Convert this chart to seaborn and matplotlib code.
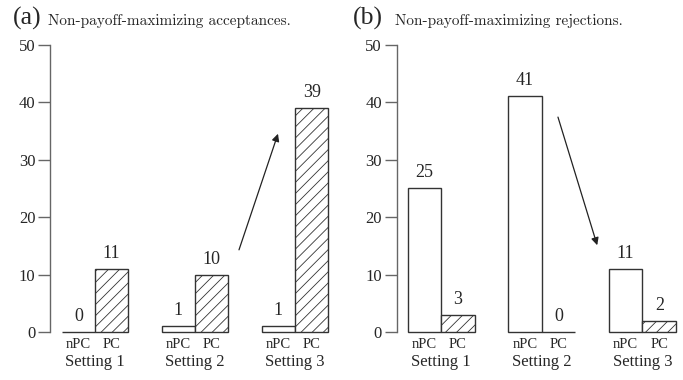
import matplotlib
matplotlib.use("Agg")
import matplotlib.pyplot as plt
import seaborn as sns
import pandas as pd

# Counts of non-payoff-maximizing choices per setting, split by group
settings = ["Setting 1", "Setting 2", "Setting 3"]
groups = ["nPC", "PC"]
acceptances_npc = [0, 1, 1]
acceptances_pc = [11, 10, 39]
rejections_npc = [25, 41, 11]
rejections_pc = [3, 0, 2]
y_ticks = [0, 10, 20, 30, 40, 50]


def long_frame(npc, pc):
    rows = []
    for s, a, b in zip(settings, npc, pc):
        rows.append({"setting": s, "group": "nPC", "count": a})
        rows.append({"setting": s, "group": "PC", "count": b})
    return pd.DataFrame(rows)


sns.set_style("ticks")
plt.rcParams["font.family"] = ["Liberation Serif", "DejaVu Serif"]
plt.rcParams["hatch.linewidth"] = 0.6
plt.rcParams["hatch.color"] = "#333333"

EDGE = "#333333"
SPINE = "#666666"

fig = plt.figure(figsize=(6.83, 3.80), dpi=100)
ax_a = fig.add_axes([50 / 683, 48 / 380, 283 / 683, 287.3 / 380])
ax_b = fig.add_axes([396.7 / 683, 48 / 380, 282 / 683, 287.3 / 380])


def draw_panel(ax, npc, pc, xlim):
    df = long_frame(npc, pc)
    sns.barplot(data=df, x="setting", y="count", hue="group",
                order=settings, hue_order=groups,
                palette={"nPC": "white", "PC": "white"},
                width=0.667, gap=0, saturation=1, errorbar=None,
                edgecolor=EDGE, linewidth=1.0, legend=False, ax=ax)
    for bar in ax.containers[1]:
        bar.set_hatch("///")
    for cont in ax.containers:
        for bar in cont:
            bar.set_clip_on(False)
        ax.bar_label(cont, fmt="%d", padding=5, fontsize=13)

    centers, labels = [], []
    for cont, g in zip(ax.containers, groups):
        for bar in cont:
            centers.append(bar.get_x() + bar.get_width() / 2)
            labels.append(g)

    ax.set_ylim(0, 50)
    ax.set_xlim(*xlim)
    ax.set_yticks(y_ticks)
    ax.set_xticks(range(len(settings)), labels=settings, fontsize=12)
    ax.set_xticks(centers, labels=labels, minor=True, fontsize=10.5)
    ax.tick_params(axis="x", which="major", length=0, pad=16)
    ax.tick_params(axis="x", which="minor", length=0, pad=4)
    ax.tick_params(axis="y", length=8.6, width=1, color=SPINE, labelsize=12, pad=2)
    ax.set_xlabel("")
    ax.set_ylabel("")
    sns.despine(ax=ax, bottom=True)
    ax.spines["left"].set_color(SPINE)
    ax.spines["left"].set_linewidth(1)


draw_panel(ax_a, acceptances_npc, acceptances_pc, (-0.45, 2.38))
draw_panel(ax_b, rejections_npc, rejections_pc, (-0.443, 2.36))

arrow = dict(arrowstyle="-|>", color="#222222", lw=0.9,
             mutation_scale=11, shrinkA=0, shrinkB=0)
ax_a.annotate("", xy=(1.83, 34.5), xytext=(1.44, 14.3), arrowprops=arrow)
ax_b.annotate("", xy=(1.55, 15.1), xytext=(1.16, 37.4), arrowprops=arrow)

base_y = 1 - 24.5 / 380
fig.text(13 / 683, base_y, "(a)", fontsize=18.5, va="baseline", ha="left")
fig.text(48 / 683, base_y, "Non-payoff-maximizing acceptances.",
         fontsize=11, va="baseline", ha="left", family="cmr10")
fig.text(353 / 683, base_y, "(b)", fontsize=18.5, va="baseline", ha="left")
fig.text(395 / 683, base_y, "Non-payoff-maximizing rejections.",
         fontsize=11, va="baseline", ha="left", family="cmr10")

fig.savefig("out.png", dpi=100)
